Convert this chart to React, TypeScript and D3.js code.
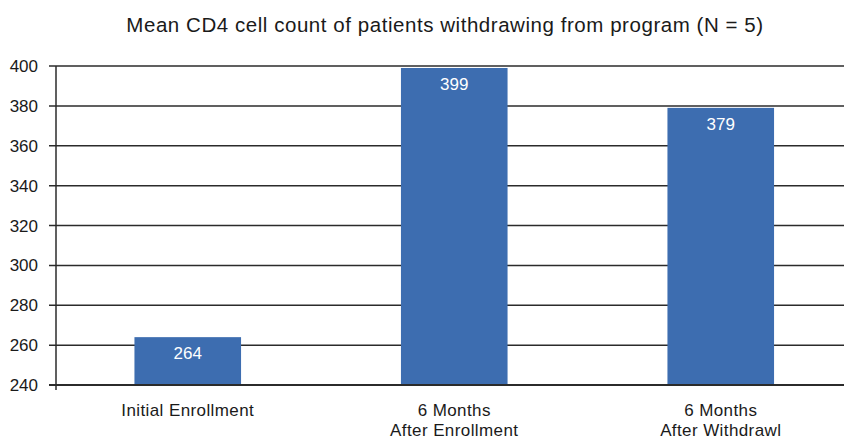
import React, { useRef, useEffect } from 'react'
import * as d3 from 'd3'

const categories = ['Initial Enrollment', '6 Months|After Enrollment', '6 Months|After Withdrawl']
const meanCD4 = [264, 399, 379]
const yTicks = [240, 260, 280, 300, 320, 340, 360, 380, 400]
const title = 'Mean CD4 cell count of patients withdrawing from program (N = 5)'

export default function App() {
  const svgRef = useRef<SVGSVGElement>(null)

  useEffect(() => {
    if (!svgRef.current) return
    const svg = d3.select(svgRef.current)
    svg.selectAll('*').remove()

    const width = 844
    const height = 438
    const font = '"Liberation Sans", Arial, sans-serif'

    const x = d3.scaleBand<string>()
      .domain(categories)
      .range([54.5, 854])
      .paddingInner(0.6)
      .paddingOuter(0.3)

    const y = d3.scaleLinear()
      .domain([240, 400])
      .range([385, 66])

    // gridlines + tick marks
    svg.append('g')
      .selectAll('line')
      .data(yTicks)
      .enter().append('line')
      .attr('x1', 49)
      .attr('x2', width)
      .attr('y1', d => y(d))
      .attr('y2', d => y(d))
      .attr('stroke', '#2b2b2b')
      .attr('stroke-width', d => d === 240 ? 2 : 1.5)

    // y tick labels
    svg.append('g')
      .selectAll('text')
      .data(yTicks)
      .enter().append('text')
      .attr('x', 38)
      .attr('y', d => y(d) + 6)
      .attr('text-anchor', 'end')
      .attr('font-family', font)
      .attr('font-size', 17)
      .attr('fill', '#1a1a1a')
      .text(d => d)

    // y axis line
    svg.append('line')
      .attr('x1', 56).attr('x2', 56)
      .attr('y1', y(400)).attr('y2', 390)
      .attr('stroke', '#2b2b2b')
      .attr('stroke-width', 1.5)

    // bars
    svg.append('g')
      .selectAll('rect')
      .data(meanCD4)
      .enter().append('rect')
      .attr('x', (_, i) => x(categories[i])!)
      .attr('width', x.bandwidth())
      .attr('y', d => y(d))
      .attr('height', d => y(240) - y(d) - 1)
      .attr('fill', '#3d6db0')

    // value labels
    svg.append('g')
      .selectAll('text')
      .data(meanCD4)
      .enter().append('text')
      .attr('x', (_, i) => x(categories[i])! + x.bandwidth() / 2)
      .attr('y', d => y(d) + 22)
      .attr('text-anchor', 'middle')
      .attr('font-family', font)
      .attr('font-size', 17)
      .attr('fill', '#ffffff')
      .text(d => d)

    // category labels
    const cat = svg.append('g')
      .selectAll('text')
      .data(categories)
      .enter().append('text')
      .attr('text-anchor', 'middle')
      .attr('font-family', font)
      .attr('font-size', 17)
      .attr('letter-spacing', 0.4)
      .attr('fill', '#1a1a1a')
    cat.each(function (d) {
      const lines = d.split('|')
      const t = d3.select(this)
      lines.forEach((ln, i) => {
        t.append('tspan')
          .attr('x', x(d)! + x.bandwidth() / 2)
          .attr('y', 416 + i * 19.5)
          .text(ln)
      })
    })

    // title
    svg.append('text')
      .attr('x', 445)
      .attr('y', 32)
      .attr('text-anchor', 'middle')
      .attr('font-family', font)
      .attr('font-size', 20.5)
      .attr('letter-spacing', 0.55)
      .attr('fill', '#1a1a1a')
      .text(title)
  }, [])

  return (
    <svg ref={svgRef} width={844} height={438}
      style={{ position: 'absolute', left: 0, top: 0, background: '#fff' }} />
  )
}
